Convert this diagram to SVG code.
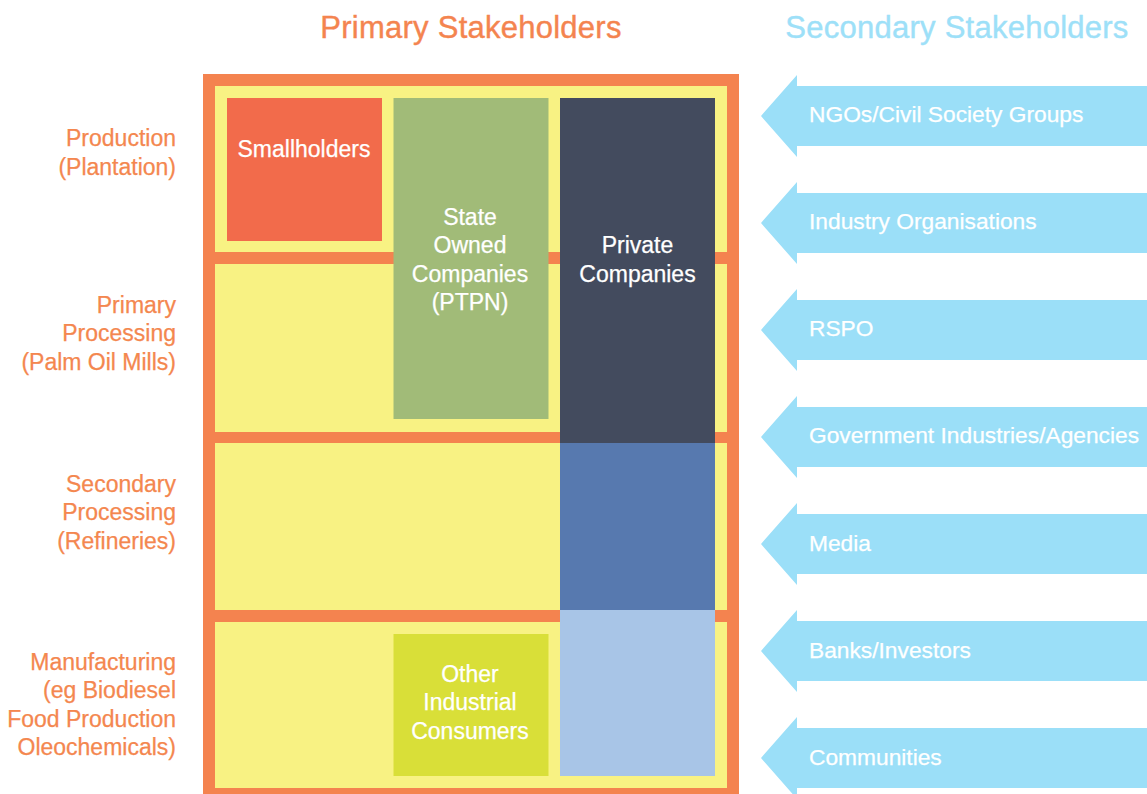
<svg xmlns="http://www.w3.org/2000/svg" width="1147" height="794" viewBox="0 0 1147 794">
<style>
text{font-family:"Liberation Sans",Arial,Helvetica,sans-serif;}
.title{font-size:31px;letter-spacing:0.25px;text-anchor:middle;stroke-width:0.4px;}
.lbl{font-size:23px;fill:#F4874F;stroke:#F4874F;stroke-width:0.25px;text-anchor:end;}
.box{font-size:23px;fill:#FFFFFF;stroke:#FFFFFF;stroke-width:0.25px;text-anchor:middle;}
.arr{font-size:22.75px;fill:#FFFFFF;stroke:#FFFFFF;stroke-width:0.25px;}
.arrow{fill:#9BDFF8;}
.band{fill:#F8F283;}
</style>
<rect width="1147" height="794" fill="#FFFFFF"/>
<text class="title" x="471" y="38" fill="#F4844F" stroke="#F4844F">Primary Stakeholders</text>
<text class="title" x="957" y="38" fill="#9DE0F8" stroke="#9DE0F8">Secondary Stakeholders</text>

<g id="frame">
<rect x="203" y="74" width="536" height="730" fill="#F4834F"/>
<rect class="band" x="215" y="86" width="512" height="166"/>
<rect class="band" x="215" y="264" width="512" height="168"/>
<rect class="band" x="215" y="443" width="512" height="167"/>
<rect class="band" x="215" y="622" width="512" height="166"/>
</g>

<g id="stage-labels">
<text class="lbl" x="176" y="146">Production</text>
<text class="lbl" x="176" y="175">(Plantation)</text>
<text class="lbl" x="176" y="313">Primary</text>
<text class="lbl" x="176" y="341">Processing</text>
<text class="lbl" x="176" y="370">(Palm Oil Mills)</text>
<text class="lbl" x="176" y="492">Secondary</text>
<text class="lbl" x="176" y="520">Processing</text>
<text class="lbl" x="176" y="549">(Refineries)</text>
<text class="lbl" x="176" y="670">Manufacturing</text>
<text class="lbl" x="176" y="698">(eg Biodiesel</text>
<text class="lbl" x="176" y="727">Food Production</text>
<text class="lbl" x="176" y="755">Oleochemicals)</text>
</g>

<g id="smallholders">
<rect x="227" y="98" width="155" height="143" fill="#F26B4B"/>
<text class="box" x="304" y="157">Smallholders</text>
</g>

<g id="state-owned">
<rect x="393.5" y="98" width="155" height="321" fill="#A1BB78"/>
<text class="box" x="470" y="225">State</text>
<text class="box" x="470" y="253">Owned</text>
<text class="box" x="470" y="282">Companies</text>
<text class="box" x="470" y="310">(PTPN)</text>
</g>

<g id="private">
<rect x="560" y="98" width="155" height="345" fill="#434B5E"/>
<rect x="560" y="443" width="155" height="167" fill="#5779AF"/>
<rect x="560" y="610" width="155" height="166" fill="#A8C5E7"/>
<text class="box" x="637.5" y="253">Private</text>
<text class="box" x="637.5" y="282">Companies</text>
</g>

<g id="other-industrial">
<rect x="393.5" y="634" width="155" height="142" fill="#D9DF38"/>
<text class="box" x="470" y="682">Other</text>
<text class="box" x="470" y="710">Industrial</text>
<text class="box" x="470" y="739">Consumers</text>
</g>

<g id="connectors"></g>

<g id="ngos">
<polygon class="arrow" points="761,116 797,75 797,86 1147,86 1147,146 797,146 797,157"/>
<text class="arr" x="809" y="122">NGOs/Civil Society Groups</text>
</g>
<g id="industry-orgs">
<polygon class="arrow" points="761,223 797,182 797,193 1147,193 1147,253 797,253 797,264"/>
<text class="arr" x="809" y="229">Industry Organisations</text>
</g>
<g id="rspo">
<polygon class="arrow" points="761,330 797,289 797,300 1147,300 1147,360 797,360 797,371"/>
<text class="arr" x="809" y="336">RSPO</text>
</g>
<g id="government">
<polygon class="arrow" points="761,437 797,396 797,407 1147,407 1147,467 797,467 797,478"/>
<text class="arr" x="809" y="443">Government Industries/Agencies</text>
</g>
<g id="media">
<polygon class="arrow" points="761,544 797,503 797,514 1147,514 1147,574 797,574 797,585"/>
<text class="arr" x="809" y="551">Media</text>
</g>
<g id="banks">
<polygon class="arrow" points="761,651 797,610 797,621 1147,621 1147,681 797,681 797,692"/>
<text class="arr" x="809" y="658">Banks/Investors</text>
</g>
<g id="communities">
<polygon class="arrow" points="761,758 797,717 797,728 1147,728 1147,788 797,788 797,799"/>
<text class="arr" x="809" y="765">Communities</text>
</g>
</svg>
